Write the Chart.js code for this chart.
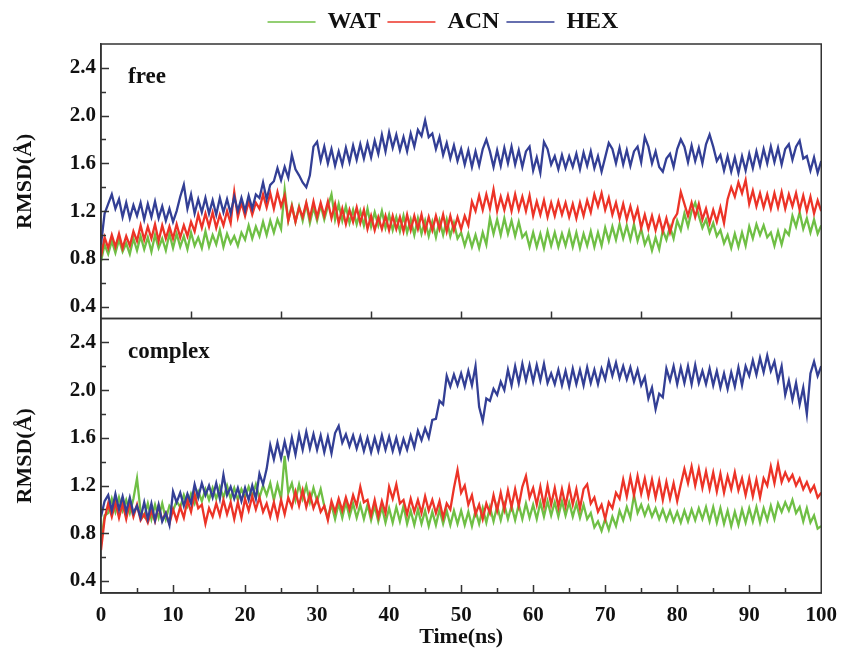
<!DOCTYPE html>
<html>
<head>
<meta charset="utf-8">
<script src="https://cdn.jsdelivr.net/npm/chart.js@4.4.1/dist/chart.umd.min.js"></script>
<style>
  html, body { margin: 0; padding: 0; background: #fff; }
</style>
</head>
<body>
<canvas id="rmsdChart" width="847" height="653"></canvas>
<script>
// time step of the trajectories (ns)
var step = 0.5;
var xTicks = [0, 10, 20, 30, 40, 50, 60, 70, 80, 90, 100];
var yTicks = [0.4, 0.8, 1.2, 1.6, 2.0, 2.4];
var panelNames = ['free', 'complex'];

// RMSD (Å), every 0.5 ns (upper / lower edge of the noisy band)
var freeWat = [
  0.78, 0.92, 0.84, 0.95, 0.85, 0.96, 0.86, 0.93, 0.84, 0.97, 0.87, 0.99, 0.88, 0.98, 0.86, 1.00, 0.89, 0.97, 0.87, 1.01,
  0.89, 1.01, 0.90, 0.99, 0.88, 1.02, 0.91, 0.98, 0.89, 1.03, 0.90, 1.00, 0.92, 1.04, 0.90, 1.01, 0.93, 0.99, 0.91, 1.02,
  0.96, 1.08, 0.97, 1.07, 0.99, 1.11, 1.00, 1.12, 1.02, 1.13, 1.05, 1.38, 1.12, 1.25, 1.11, 1.24, 1.12, 1.26, 1.10, 1.23,
  1.12, 1.25, 1.13, 1.24, 1.34, 1.13, 1.26, 1.12, 1.24, 1.10, 1.21, 1.09, 1.20, 1.08, 1.22, 1.07, 1.19, 1.08, 1.20, 1.06,
  1.17, 1.04, 1.15, 1.03, 1.16, 1.02, 1.13, 1.00, 1.14, 1.01, 1.12, 0.99, 1.11, 0.98, 1.12, 1.00, 1.13, 0.99, 1.10, 0.97,
  1.02, 0.91, 1.01, 0.90, 1.00, 0.89, 1.02, 0.92, 1.14, 1.01, 1.13, 1.00, 1.14, 1.01, 1.12, 0.99, 1.11, 0.98, 1.02, 0.90,
  1.02, 0.90, 1.01, 0.89, 1.03, 0.91, 1.02, 0.90, 1.01, 0.91, 1.03, 0.90, 1.02, 0.89, 1.01, 0.91, 1.03, 0.90, 1.02, 0.91,
  1.06, 0.95, 1.07, 0.96, 1.09, 0.97, 1.08, 0.96, 1.09, 0.95, 1.05, 0.92, 0.99, 0.87, 0.98, 0.88, 1.04, 0.96, 1.07, 0.97,
  1.12, 1.04, 1.18, 1.07, 1.20, 1.27, 1.16, 1.06, 1.13, 1.02, 1.10, 0.99, 1.04, 0.93, 1.00, 0.89, 1.01, 0.90, 1.02, 0.91,
  1.07, 0.97, 1.09, 1.00, 1.08, 0.98, 1.02, 0.91, 1.03, 0.92, 1.04, 1.00, 1.16, 1.07, 1.19, 1.05, 1.14, 1.02, 1.13, 1.01,
  1.08
];
var freeAcn = [
  0.82, 0.98, 0.89, 1.00, 0.90, 1.01, 0.89, 0.99, 0.91, 1.03, 0.95, 1.08, 0.96, 1.07, 0.97, 1.09, 0.95, 1.08, 0.97, 1.07,
  0.97, 1.09, 0.98, 1.08, 0.99, 1.11, 1.03, 1.17, 1.06, 1.18, 1.07, 1.19, 1.06, 1.17, 1.08, 1.20, 1.10, 1.36, 1.15, 1.27,
  1.16, 1.28, 1.17, 1.27, 1.22, 1.34, 1.23, 1.35, 1.22, 1.36, 1.24, 1.33, 1.12, 1.24, 1.11, 1.23, 1.15, 1.27, 1.14, 1.28,
  1.15, 1.27, 1.16, 1.28, 1.14, 1.26, 1.10, 1.22, 1.09, 1.21, 1.11, 1.23, 1.10, 1.21, 1.05, 1.16, 1.04, 1.15, 1.05, 1.16,
  1.04, 1.16, 1.05, 1.15, 1.03, 1.17, 1.04, 1.16, 1.05, 1.17, 1.03, 1.15, 1.04, 1.16, 1.05, 1.17, 1.03, 1.16, 1.04, 1.15,
  1.05, 1.16, 1.08, 1.28, 1.20, 1.33, 1.21, 1.34, 1.22, 1.38, 1.20, 1.32, 1.21, 1.33, 1.20, 1.34, 1.21, 1.32, 1.20, 1.33,
  1.16, 1.28, 1.17, 1.29, 1.15, 1.27, 1.16, 1.28, 1.17, 1.27, 1.15, 1.26, 1.14, 1.27, 1.16, 1.29, 1.19, 1.34, 1.24, 1.35,
  1.21, 1.31, 1.17, 1.27, 1.14, 1.26, 1.13, 1.24, 1.12, 1.22, 1.06, 1.17, 1.05, 1.16, 1.04, 1.15, 1.03, 1.14, 1.02, 1.13,
  1.18, 1.36, 1.26, 1.16, 1.27, 1.15, 1.26, 1.13, 1.22, 1.10, 1.21, 1.11, 1.23, 1.10, 1.30, 1.40, 1.32, 1.44, 1.35, 1.46,
  1.26, 1.37, 1.24, 1.35, 1.23, 1.34, 1.22, 1.35, 1.23, 1.36, 1.22, 1.34, 1.24, 1.35, 1.21, 1.33, 1.20, 1.32, 1.18, 1.29,
  1.20
];
var freeHex = [
  0.92, 1.18, 1.26, 1.34, 1.22, 1.30, 1.15, 1.27, 1.14, 1.25, 1.16, 1.27, 1.13, 1.26, 1.15, 1.28, 1.14, 1.24, 1.12, 1.22,
  1.11, 1.20, 1.32, 1.42, 1.22, 1.34, 1.18, 1.30, 1.19, 1.31, 1.18, 1.29, 1.17, 1.31, 1.19, 1.30, 1.18, 1.32, 1.20, 1.31,
  1.20, 1.33, 1.22, 1.34, 1.31, 1.44, 1.30, 1.42, 1.45, 1.56, 1.46, 1.57, 1.48, 1.67, 1.55, 1.50, 1.44, 1.40, 1.50, 1.74,
  1.78, 1.62, 1.74, 1.60, 1.72, 1.58, 1.70, 1.59, 1.73, 1.61, 1.75, 1.63, 1.76, 1.64, 1.77, 1.65, 1.79, 1.68, 1.84, 1.70,
  1.86, 1.73, 1.84, 1.71, 1.82, 1.70, 1.85, 1.74, 1.88, 1.83, 1.96, 1.82, 1.85, 1.72, 1.82, 1.67, 1.77, 1.64, 1.75, 1.62,
  1.72, 1.59, 1.71, 1.57, 1.70, 1.58, 1.72, 1.80, 1.70, 1.57, 1.71, 1.58, 1.73, 1.60, 1.74, 1.59, 1.71, 1.57, 1.70, 1.74,
  1.54, 1.65, 1.52, 1.78, 1.72, 1.59, 1.66, 1.55, 1.67, 1.56, 1.66, 1.57, 1.68, 1.55, 1.69, 1.58, 1.70, 1.56, 1.66, 1.53,
  1.65, 1.77, 1.72, 1.60, 1.73, 1.59, 1.71, 1.58, 1.70, 1.74, 1.61, 1.82, 1.74, 1.60, 1.70, 1.57, 1.53, 1.64, 1.68, 1.57,
  1.72, 1.80, 1.74, 1.61, 1.75, 1.62, 1.73, 1.60, 1.76, 1.84, 1.74, 1.62, 1.67, 1.54, 1.66, 1.53, 1.65, 1.52, 1.66, 1.54,
  1.68, 1.56, 1.70, 1.58, 1.72, 1.60, 1.74, 1.61, 1.73, 1.59, 1.72, 1.76, 1.63, 1.74, 1.79, 1.64, 1.66, 1.54, 1.65, 1.52,
  1.62
];
var cplxWat = [
  0.72, 0.95, 0.97, 1.09, 0.98, 1.10, 0.99, 1.08, 0.97, 1.09, 1.26, 0.98, 0.94, 1.05, 0.92, 1.04, 0.93, 1.05, 0.92, 1.03,
  0.99, 1.07, 1.02, 1.12, 1.03, 1.13, 1.05, 1.15, 1.07, 1.17, 1.08, 1.18, 1.09, 1.19, 1.10, 1.20, 1.09, 1.18, 1.08, 1.17,
  1.10, 1.19, 1.11, 1.21, 1.10, 1.20, 1.12, 1.22, 1.08, 1.21, 1.09, 1.45, 1.14, 1.22, 1.08, 1.21, 1.09, 1.20, 1.06, 1.18,
  1.07, 1.17, 1.03, 0.93, 1.04, 0.92, 1.05, 0.93, 1.06, 0.94, 1.05, 0.93, 1.04, 0.92, 1.04, 0.91, 1.03, 0.90, 1.02, 0.89,
  1.01, 0.89, 1.02, 0.90, 1.03, 0.88, 0.99, 0.87, 1.00, 0.88, 0.99, 0.86, 0.98, 0.87, 1.00, 0.88, 0.99, 0.87, 0.99, 0.88,
  0.99, 0.87, 0.98, 0.86, 0.99, 0.88, 1.01, 0.89, 1.02, 0.90, 1.03, 0.91, 1.04, 0.92, 1.03, 0.91, 1.04, 0.92, 1.05, 0.93,
  1.04, 0.92, 1.06, 0.94, 1.07, 0.95, 1.06, 0.94, 1.07, 0.95, 1.06, 0.94, 1.05, 0.93, 1.04, 0.92, 0.97, 0.85, 0.90, 0.82,
  0.92, 0.83, 0.94, 0.86, 0.99, 0.91, 1.02, 0.93, 1.12, 0.97, 1.04, 0.95, 1.03, 0.94, 1.01, 0.92, 1.00, 0.91, 0.99, 0.90,
  0.98, 0.89, 0.99, 0.90, 1.00, 0.91, 1.01, 0.92, 1.02, 0.90, 1.02, 0.89, 1.01, 0.88, 0.99, 0.86, 0.98, 0.87, 1.00, 0.89,
  1.01, 0.90, 1.02, 0.89, 1.01, 0.91, 1.03, 0.92, 1.05, 0.98, 1.06, 0.99, 1.08, 0.97, 1.02, 0.90, 1.01, 0.89, 0.95, 0.84,
  0.86
];
var cplxAcn = [
  0.66, 0.92, 1.05, 0.94, 1.06, 0.93, 1.05, 0.92, 1.06, 0.94, 1.04, 0.91, 0.96, 0.89, 0.99, 0.90, 1.03, 0.91, 0.97, 0.88,
  1.00, 0.91, 1.02, 0.93, 1.08, 0.98, 1.13, 1.01, 1.04, 0.88, 1.01, 0.94, 1.05, 0.95, 1.08, 0.96, 1.06, 0.92, 1.06, 0.93,
  1.09, 0.99, 1.11, 1.00, 1.10, 0.98, 1.05, 0.94, 1.06, 0.93, 1.08, 0.96, 1.10, 1.02, 1.15, 1.03, 1.16, 1.02, 1.13, 1.01,
  1.09, 0.98, 1.03, 0.91, 1.07, 0.98, 1.09, 0.99, 1.10, 1.00, 1.12, 1.03, 1.19, 1.06, 1.08, 0.95, 1.08, 0.94, 1.07, 0.97,
  1.19, 1.09, 1.21, 1.05, 1.08, 0.96, 1.09, 0.98, 1.08, 0.97, 1.11, 0.99, 1.08, 0.97, 1.07, 0.93, 1.05, 1.00, 1.18, 1.33,
  1.14, 1.20, 1.04, 1.12, 0.96, 1.04, 0.92, 1.05, 0.97, 1.12, 0.99, 1.14, 1.00, 1.16, 1.02, 1.17, 1.03, 1.19, 1.28, 1.10,
  1.18, 1.04, 1.19, 1.03, 1.20, 1.04, 1.18, 1.02, 1.17, 1.03, 1.19, 1.04, 1.17, 1.01, 1.17, 1.21, 1.05, 1.10, 0.98, 1.04,
  0.92, 1.06, 1.01, 1.14, 1.09, 1.25, 1.11, 1.27, 1.12, 1.28, 1.13, 1.26, 1.11, 1.25, 1.10, 1.24, 1.08, 1.23, 1.09, 1.22,
  1.07, 1.21, 1.34, 1.22, 1.36, 1.20, 1.34, 1.18, 1.32, 1.17, 1.31, 1.15, 1.30, 1.14, 1.28, 1.17, 1.31, 1.16, 1.26, 1.12,
  1.26, 1.11, 1.25, 1.10, 1.26, 1.20, 1.36, 1.22, 1.38, 1.23, 1.31, 1.24, 1.29, 1.20, 1.26, 1.17, 1.23, 1.15, 1.20, 1.10,
  1.14
];
var cplxHex = [
  0.94, 1.07, 1.12, 0.99, 1.13, 1.00, 1.11, 0.98, 1.10, 0.97, 1.03, 0.93, 1.06, 0.92, 1.05, 0.91, 1.04, 0.90, 0.97, 0.87,
  1.15, 1.06, 1.14, 1.03, 1.13, 1.05, 1.21, 1.10, 1.22, 1.12, 1.20, 1.10, 1.22, 1.09, 1.29, 1.12, 1.19, 1.09, 1.18, 1.07,
  1.18, 1.08, 1.20, 1.09, 1.30, 1.21, 1.34, 1.54, 1.42, 1.56, 1.43, 1.57, 1.44, 1.60, 1.46, 1.63, 1.50, 1.65, 1.51, 1.63,
  1.50, 1.62, 1.48, 1.61, 1.47, 1.64, 1.70, 1.56, 1.63, 1.53, 1.62, 1.51, 1.61, 1.49, 1.60, 1.48, 1.60, 1.49, 1.62, 1.50,
  1.61, 1.49, 1.60, 1.48, 1.59, 1.50, 1.62, 1.52, 1.66, 1.58, 1.68, 1.60, 1.75, 1.76, 1.91, 1.88, 2.12, 2.03, 2.13, 2.04,
  2.14, 2.03, 2.16, 2.04, 2.20, 1.86, 1.74, 1.93, 1.91, 2.01, 1.96, 2.07, 2.00, 2.17, 2.04, 2.20, 2.06, 2.22, 2.08, 2.21,
  2.07, 2.21, 2.08, 2.22, 2.06, 2.14, 2.05, 2.17, 2.04, 2.16, 2.03, 2.18, 2.05, 2.17, 2.04, 2.19, 2.06, 2.17, 2.05, 2.18,
  2.09, 2.24, 2.12, 2.23, 2.10, 2.20, 2.09, 2.19, 2.07, 2.17, 2.04, 2.11, 1.93, 2.02, 1.84, 1.97, 1.94, 2.18, 2.08, 2.20,
  2.05, 2.19, 2.06, 2.20, 2.05, 2.21, 2.06, 2.16, 2.05, 2.18, 2.04, 2.16, 2.02, 2.14, 2.01, 2.15, 2.03, 2.19, 2.04, 2.20,
  2.12, 2.25, 2.13, 2.27, 2.15, 2.29, 2.16, 2.24, 2.08, 2.20, 1.96, 2.08, 1.92, 2.06, 1.88, 2.02, 1.80, 2.14, 2.24, 2.12,
  2.20
];

var serif = '"Liberation Serif", "Times New Roman", serif';
var colors = { WAT: '#6fbf45', ACN: '#ec3327', HEX: '#333f95' };

function toPoints(arr) {
  return arr.map(function(v, i) { return { x: i * step, y: v }; });
}

function line(label, arr, axis) {
  return {
    label: label,
    data: toPoints(arr),
    yAxisID: axis,
    borderColor: colors[label],
    backgroundColor: colors[label],
    borderWidth: 2.3,
    pointRadius: 0,
    tension: 0,
    fill: false
  };
}

// HEX first so it is painted on top, legend re-sorted below
var datasets = [
  line('HEX', freeHex, 'yTop'),
  line('ACN', freeAcn, 'yTop'),
  line('WAT', freeWat, 'yTop'),
  line('HEX', cplxHex, 'yBot'),
  line('ACN', cplxAcn, 'yBot'),
  line('WAT', cplxWat, 'yBot')
];

function yAxis() {
  return {
    type: 'linear',
    position: 'left',
    stack: 'rmsd',
    stackWeight: 1,
    min: 0.3,
    max: 2.6,
    grid: { display: false, drawTicks: false },
    border: { display: true, color: '#333', width: 1.5 },
    afterBuildTicks: function(s) { s.ticks = yTicks.map(function(v) { return { value: v }; }); },
    afterFit: function(s) { s.width = 101; },
    ticks: {
      color: '#111',
      padding: 5,
      font: { family: serif, size: 21, weight: 'bold' },
      callback: function(v) { return v.toFixed(1); }
    },
    title: {
      display: true,
      text: 'RMSD(Å)',
      color: '#111',
      padding: { top: 12, bottom: 0 },
      font: { family: serif, size: 22, weight: 'bold' }
    }
  };
}

// frame, inward tick marks and panel names
var framePlugin = {
  id: 'frame',
  afterDatasetsDraw: function(chart) {
    var ctx = chart.ctx;
    var x = chart.scales.x;
    var panels = [chart.scales.yTop, chart.scales.yBot];
    ctx.save();
    ctx.strokeStyle = '#333';
    ctx.lineWidth = 1.5;
    panels.forEach(function(y, k) {
      ctx.strokeRect(x.left, y.top, x.right - x.left, y.bottom - y.top);
      ctx.beginPath();
      for (var v = 0.4; v < 2.55; v += 0.2) {
        var py = Math.round(y.getPixelForValue(v)) + 0.5;
        var len = Math.abs((v / 0.4) - Math.round(v / 0.4)) < 0.01 ? 8 : 5;
        ctx.moveTo(x.left, py);
        ctx.lineTo(x.left + len, py);
      }
      ctx.stroke();
      ctx.fillStyle = '#111';
      ctx.font = 'bold 23px ' + serif;
      ctx.textBaseline = 'alphabetic';
      ctx.fillText(panelNames[k], x.left + 27, y.top + 39);
    });
    // bottom axis ticks (major 10, minor 5)
    var yb = chart.scales.yBot;
    ctx.beginPath();
    for (var t = 5; t < 100; t += 5) {
      var px = Math.round(x.getPixelForValue(t)) + 0.5;
      ctx.moveTo(px, yb.bottom);
      ctx.lineTo(px, yb.bottom - (t % 10 === 0 ? 8 : 5));
    }
    // top panel bottom edge ticks
    var yt = chart.scales.yTop;
    for (var s = 12.5; s < 100; s += 12.5) {
      var qx = Math.round(x.getPixelForValue(s)) + 0.5;
      ctx.moveTo(qx, yt.bottom);
      ctx.lineTo(qx, yt.bottom - 7);
    }
    ctx.stroke();
    ctx.restore();
  }
};

// nudge the legend a little right, as in the figure
var legendShift = {
  id: 'legendShift',
  afterLayout: function(chart) {
    chart.legend.left += 28;
    chart.legend.right += 28;
  }
};

var ctx = document.getElementById('rmsdChart').getContext('2d');
var rmsdChart = new Chart(ctx, {
  type: 'line',
  data: { datasets: datasets },
  plugins: [framePlugin, legendShift],
  options: {
    responsive: false,
    animation: false,
    devicePixelRatio: 1,
    layout: { padding: { left: 0, right: 17, top: 3, bottom: 0 } },
    plugins: {
      tooltip: { enabled: false },
      legend: {
        position: 'top',
        labels: {
          generateLabels: function(chart) {
            var items = Chart.defaults.plugins.legend.labels.generateLabels(chart);
            items.forEach(function(it) { it.lineWidth = 1.5; });
            return items;
          },
          filter: function(item) { return item.datasetIndex < 3; },
          sort: function(a, b) { return b.datasetIndex - a.datasetIndex; },
          usePointStyle: true,
          pointStyle: 'line',
          pointStyleWidth: 48,
          color: '#111',
          padding: 7,
          font: { family: serif, size: 24, weight: 'bold' }
        }
      }
    },
    scales: {
      x: {
        type: 'linear',
        position: 'bottom',
        min: 0,
        max: 100,
        grid: { display: false, drawTicks: false },
        border: { display: true, color: '#333', width: 1.5 },
        afterBuildTicks: function(s) { s.ticks = xTicks.map(function(v) { return { value: v }; }); },
        afterFit: function(s) { s.height = 60; },
        ticks: {
          color: '#111',
          padding: 10,
          maxRotation: 0,
          font: { family: serif, size: 21, weight: 'bold' }
        },
        title: {
          display: true,
          text: 'Time(ns)',
          color: '#111',
          padding: { top: 0, bottom: 2 },
          font: { family: serif, size: 22, weight: 'bold' }
        }
      },
      // stacked axes are laid out bottom-up
      yBot: yAxis(),
      yTop: yAxis()
    }
  }
});
</script>
</body>
</html>
